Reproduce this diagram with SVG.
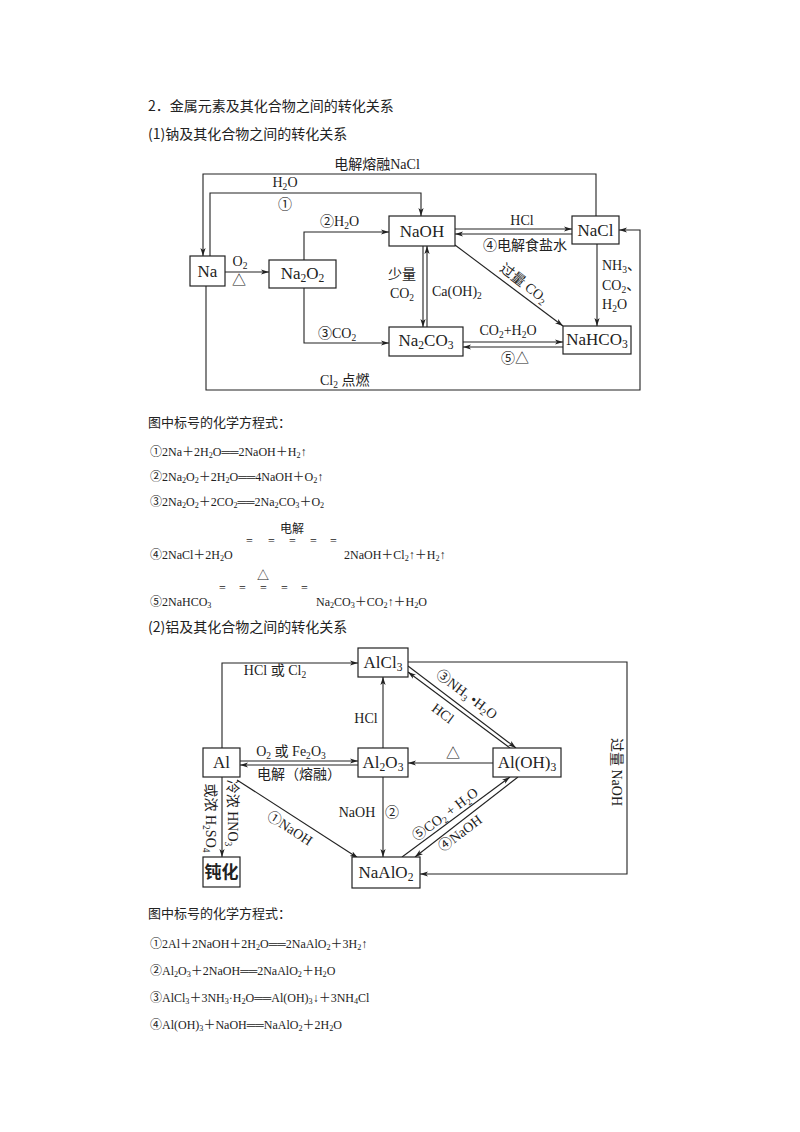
<svg xmlns="http://www.w3.org/2000/svg" width="800" height="1132" viewBox="0 0 800 1132">
<style>
.t{font-family:"Liberation Serif","Noto Sans CJK SC",serif;fill:#222}
.c{font-family:"Noto Sans CJK SC",sans-serif;fill:#222}
.n{font-size:17px;text-anchor:middle}
.l{font-size:14px}
.m{text-anchor:middle}
.e{font-size:12px}
.s{font-size:68%;baseline-shift:-0.3em}
.box{fill:#fff;stroke:#222;stroke-width:1.2}
.ln{fill:none;stroke:#222;stroke-width:1.1;marker-end:url(#ah)}
</style>
<defs>
<marker id="ah" markerWidth="9" markerHeight="6" refX="8" refY="3" orient="auto" markerUnits="userSpaceOnUse">
<path d="M0,0.4 L8,3 L0,5.6 L2,3 z" fill="#222"/>
</marker>
</defs>
<rect width="800" height="1132" fill="#fff"/>

<g id="headings">
<text x="148" y="111" class="c" font-size="14">2．金属元素及其化合物之间的转化关系</text>
<text x="148" y="139" class="c" font-size="14">(1)钠及其化合物之间的转化关系</text>
<text x="148" y="427" class="c" font-size="13">图中标号的化学方程式：</text>
<text x="148" y="632" class="c" font-size="14">(2)铝及其化合物之间的转化关系</text>
<text x="148" y="918" class="c" font-size="13">图中标号的化学方程式：</text>
</g>

<g id="connectors-na">
<polyline class="ln" points="596,216 596,174 203,174 203,256"/>
<polyline class="ln" points="210,256 210,193 421,193 421,216"/>
<polyline class="ln" points="225,272 269,272"/>
<polyline class="ln" points="304,260 304,232 389,232"/>
<polyline class="ln" points="304,288 304,343 389,343"/>
<polyline class="ln" points="206,286 206,390 640,390 640,230 619,230"/>
<polyline class="ln" points="423,246 423,327"/>
<polyline class="ln" points="427,327 427,246"/>
<polyline class="ln" points="455,229 572,229"/>
<polyline class="ln" points="572,234 455,234"/>
<polyline class="ln" points="455,245 563,326"/>
<polyline class="ln" points="597,244 597,326"/>
<polyline class="ln" points="463,342 563,342"/>
<polyline class="ln" points="563,347 463,347"/>
</g>

<g id="labels-na" class="t l">
<text x="377" y="169" class="m">电解熔融NaCl</text>
<text x="285" y="187" class="m">H<tspan class="s">2</tspan>O</text>
<text x="285" y="209" class="m">①</text>
<text x="240" y="266" class="m">O<tspan class="s">2</tspan></text>
<text x="239" y="285" class="m">△</text>
<text x="320" y="226">②H<tspan class="s">2</tspan>O</text>
<text x="318" y="338">③CO<tspan class="s">2</tspan></text>
<text x="402" y="279" class="m">少量</text>
<text x="402" y="298" class="m">CO<tspan class="s">2</tspan></text>
<text x="432" y="296">Ca(OH)<tspan class="s">2</tspan></text>
<text x="320" y="385">Cl<tspan class="s">2</tspan> 点燃</text>
<text x="522" y="225" class="m">HCl</text>
<text x="525" y="250" class="m">④电解食盐水</text>
<text x="524" y="288" class="m" transform="rotate(37 524 283)">过量 CO<tspan class="s">2</tspan></text>
<text x="602" y="270">NH<tspan class="s">3</tspan>、</text>
<text x="602" y="290">CO<tspan class="s">2</tspan>、</text>
<text x="602" y="309">H<tspan class="s">2</tspan>O</text>
<text x="508" y="335" class="m">CO<tspan class="s">2</tspan>+H<tspan class="s">2</tspan>O</text>
<text x="515" y="363" class="m">⑤△</text>
</g>

<g id="node-Na"><rect class="box" x="190" y="256" width="35" height="30"/><text class="t n" x="207.5" y="277">Na</text></g>
<g id="node-Na2O2"><rect class="box" x="269" y="260" width="67" height="28"/><text class="t n" x="302.5" y="279">Na<tspan class="s">2</tspan>O<tspan class="s">2</tspan></text></g>
<g id="node-NaOH"><rect class="box" x="389" y="216" width="66" height="30"/><text class="t n" x="422" y="237">NaOH</text></g>
<g id="node-Na2CO3"><rect class="box" x="389" y="327" width="74" height="29"/><text class="t n" x="426" y="346">Na<tspan class="s">2</tspan>CO<tspan class="s">3</tspan></text></g>
<g id="node-NaCl"><rect class="box" x="572" y="216" width="47" height="28"/><text class="t n" x="595.5" y="236">NaCl</text></g>
<g id="node-NaHCO3"><rect class="box" x="563" y="326" width="68" height="28"/><text class="t n" x="597" y="345">NaHCO<tspan class="s">3</tspan></text></g>

<g id="equations-na" class="t e">
<text x="150" y="456">①2Na＋2H<tspan class="s">2</tspan>O══2NaOH＋H<tspan class="s">2</tspan>↑</text>
<text x="150" y="481">②2Na<tspan class="s">2</tspan>O<tspan class="s">2</tspan>＋2H<tspan class="s">2</tspan>O══4NaOH＋O<tspan class="s">2</tspan>↑</text>
<text x="150" y="506">③2Na<tspan class="s">2</tspan>O<tspan class="s">2</tspan>＋2CO<tspan class="s">2</tspan>══2Na<tspan class="s">2</tspan>CO<tspan class="s">3</tspan>＋O<tspan class="s">2</tspan></text>
<text x="292" y="533" class="m">电解</text>
<text x="246" y="545">=</text><text x="268" y="545">=</text><text x="289" y="545">=</text><text x="310" y="545">=</text><text x="330" y="545">=</text>
<text x="150" y="559">④2NaCl＋2H<tspan class="s">2</tspan>O</text>
<text x="344" y="559">2NaOH＋Cl<tspan class="s">2</tspan>↑＋H<tspan class="s">2</tspan>↑</text>
<text x="263" y="580" class="m">△</text>
<text x="219" y="592">=</text><text x="239" y="592">=</text><text x="260" y="592">=</text><text x="281" y="592">=</text><text x="301" y="592">=</text>
<text x="150" y="606">⑤2NaHCO<tspan class="s">3</tspan></text>
<text x="316" y="606">Na<tspan class="s">2</tspan>CO<tspan class="s">3</tspan>＋CO<tspan class="s">2</tspan>↑＋H<tspan class="s">2</tspan>O</text>
</g>

<g id="connectors-al">
<polyline class="ln" points="222,748 222,663 358,663"/>
<polyline class="ln" points="240,761 358,761"/>
<polyline class="ln" points="358,765 240,765"/>
<polyline class="ln" points="383,748 383,677"/>
<polyline class="ln" points="383,777 383,857"/>
<polyline class="ln" points="237,780 358,858"/>
<polyline class="ln" points="222,777 222,857"/>
<polyline class="ln" points="493,763 408,763"/>
<polyline class="ln" points="408,666 516,748"/>
<polyline class="ln" points="510,748 408,672"/>
<polyline class="ln" points="402,857 510,777"/>
<polyline class="ln" points="518,777 415,857"/>
<polyline class="ln" points="408,662 627,662 627,874 420,874"/>
</g>

<g id="labels-al" class="t l">
<text x="275" y="675" class="m">HCl 或 Cl<tspan class="s">2</tspan></text>
<text x="291" y="756" class="m">O<tspan class="s">2</tspan> 或 Fe<tspan class="s">2</tspan>O<tspan class="s">3</tspan></text>
<text x="299" y="779" class="m">电解（熔融）</text>
<text x="366" y="723" class="m">HCl</text>
<text x="357" y="817" class="m">NaOH</text>
<text x="392" y="817" class="m">②</text>
<text x="290" y="833" class="m" transform="rotate(33 290 828)">①NaOH</text>
<text x="233" y="818" class="m" transform="rotate(90 233 813)">冷浓 HNO<tspan class="s">3</tspan></text>
<text x="211" y="823" class="m" transform="rotate(90 211 818)">或浓 H<tspan class="s">2</tspan>SO<tspan class="s">4</tspan></text>
<text x="453" y="758" class="m">△</text>
<text x="467" y="699" class="m" transform="rotate(37 467 694)">③NH<tspan class="s">3</tspan> •H<tspan class="s">2</tspan>O</text>
<text x="443" y="718" class="m" transform="rotate(37 443 713)">HCl</text>
<text x="445" y="819" class="m" transform="rotate(-37 445 814)">⑤CO<tspan class="s">2</tspan> + H<tspan class="s">2</tspan>O</text>
<text x="460" y="838" class="m" transform="rotate(-37 460 833)">④NaOH</text>
<text x="617" y="777" class="m" transform="rotate(90 617 772)">过量 NaOH</text>
</g>

<g id="node-AlCl3"><rect class="box" x="358" y="648" width="50" height="29"/><text class="t n" x="383" y="668">AlCl<tspan class="s">3</tspan></text></g>
<g id="node-Al"><rect class="box" x="203" y="748" width="37" height="29"/><text class="t n" x="221.5" y="768">Al</text></g>
<g id="node-Al2O3"><rect class="box" x="358" y="748" width="50" height="29"/><text class="t n" x="383" y="768">Al<tspan class="s">2</tspan>O<tspan class="s">3</tspan></text></g>
<g id="node-AlOH3"><rect class="box" x="493" y="748" width="68" height="29"/><text class="t n" x="527" y="768">Al(OH)<tspan class="s">3</tspan></text></g>
<g id="node-NaAlO2"><rect class="box" x="352" y="857" width="68" height="31"/><text class="t n" x="386" y="878">NaAlO<tspan class="s">2</tspan></text></g>
<g id="node-passivation"><rect class="box" x="203" y="857" width="37" height="30"/><text class="c n" x="221.5" y="878" font-weight="bold" font-size="16">钝化</text></g>

<g id="equations-al" class="t e">
<text x="150" y="948">①2Al＋2NaOH＋2H<tspan class="s">2</tspan>O══2NaAlO<tspan class="s">2</tspan>＋3H<tspan class="s">2</tspan>↑</text>
<text x="150" y="975">②Al<tspan class="s">2</tspan>O<tspan class="s">3</tspan>＋2NaOH══2NaAlO<tspan class="s">2</tspan>＋H<tspan class="s">2</tspan>O</text>
<text x="150" y="1002">③AlCl<tspan class="s">3</tspan>＋3NH<tspan class="s">3</tspan>·H<tspan class="s">2</tspan>O══Al(OH)<tspan class="s">3</tspan>↓＋3NH<tspan class="s">4</tspan>Cl</text>
<text x="150" y="1029">④Al(OH)<tspan class="s">3</tspan>＋NaOH══NaAlO<tspan class="s">2</tspan>＋2H<tspan class="s">2</tspan>O</text>
</g>
</svg>
